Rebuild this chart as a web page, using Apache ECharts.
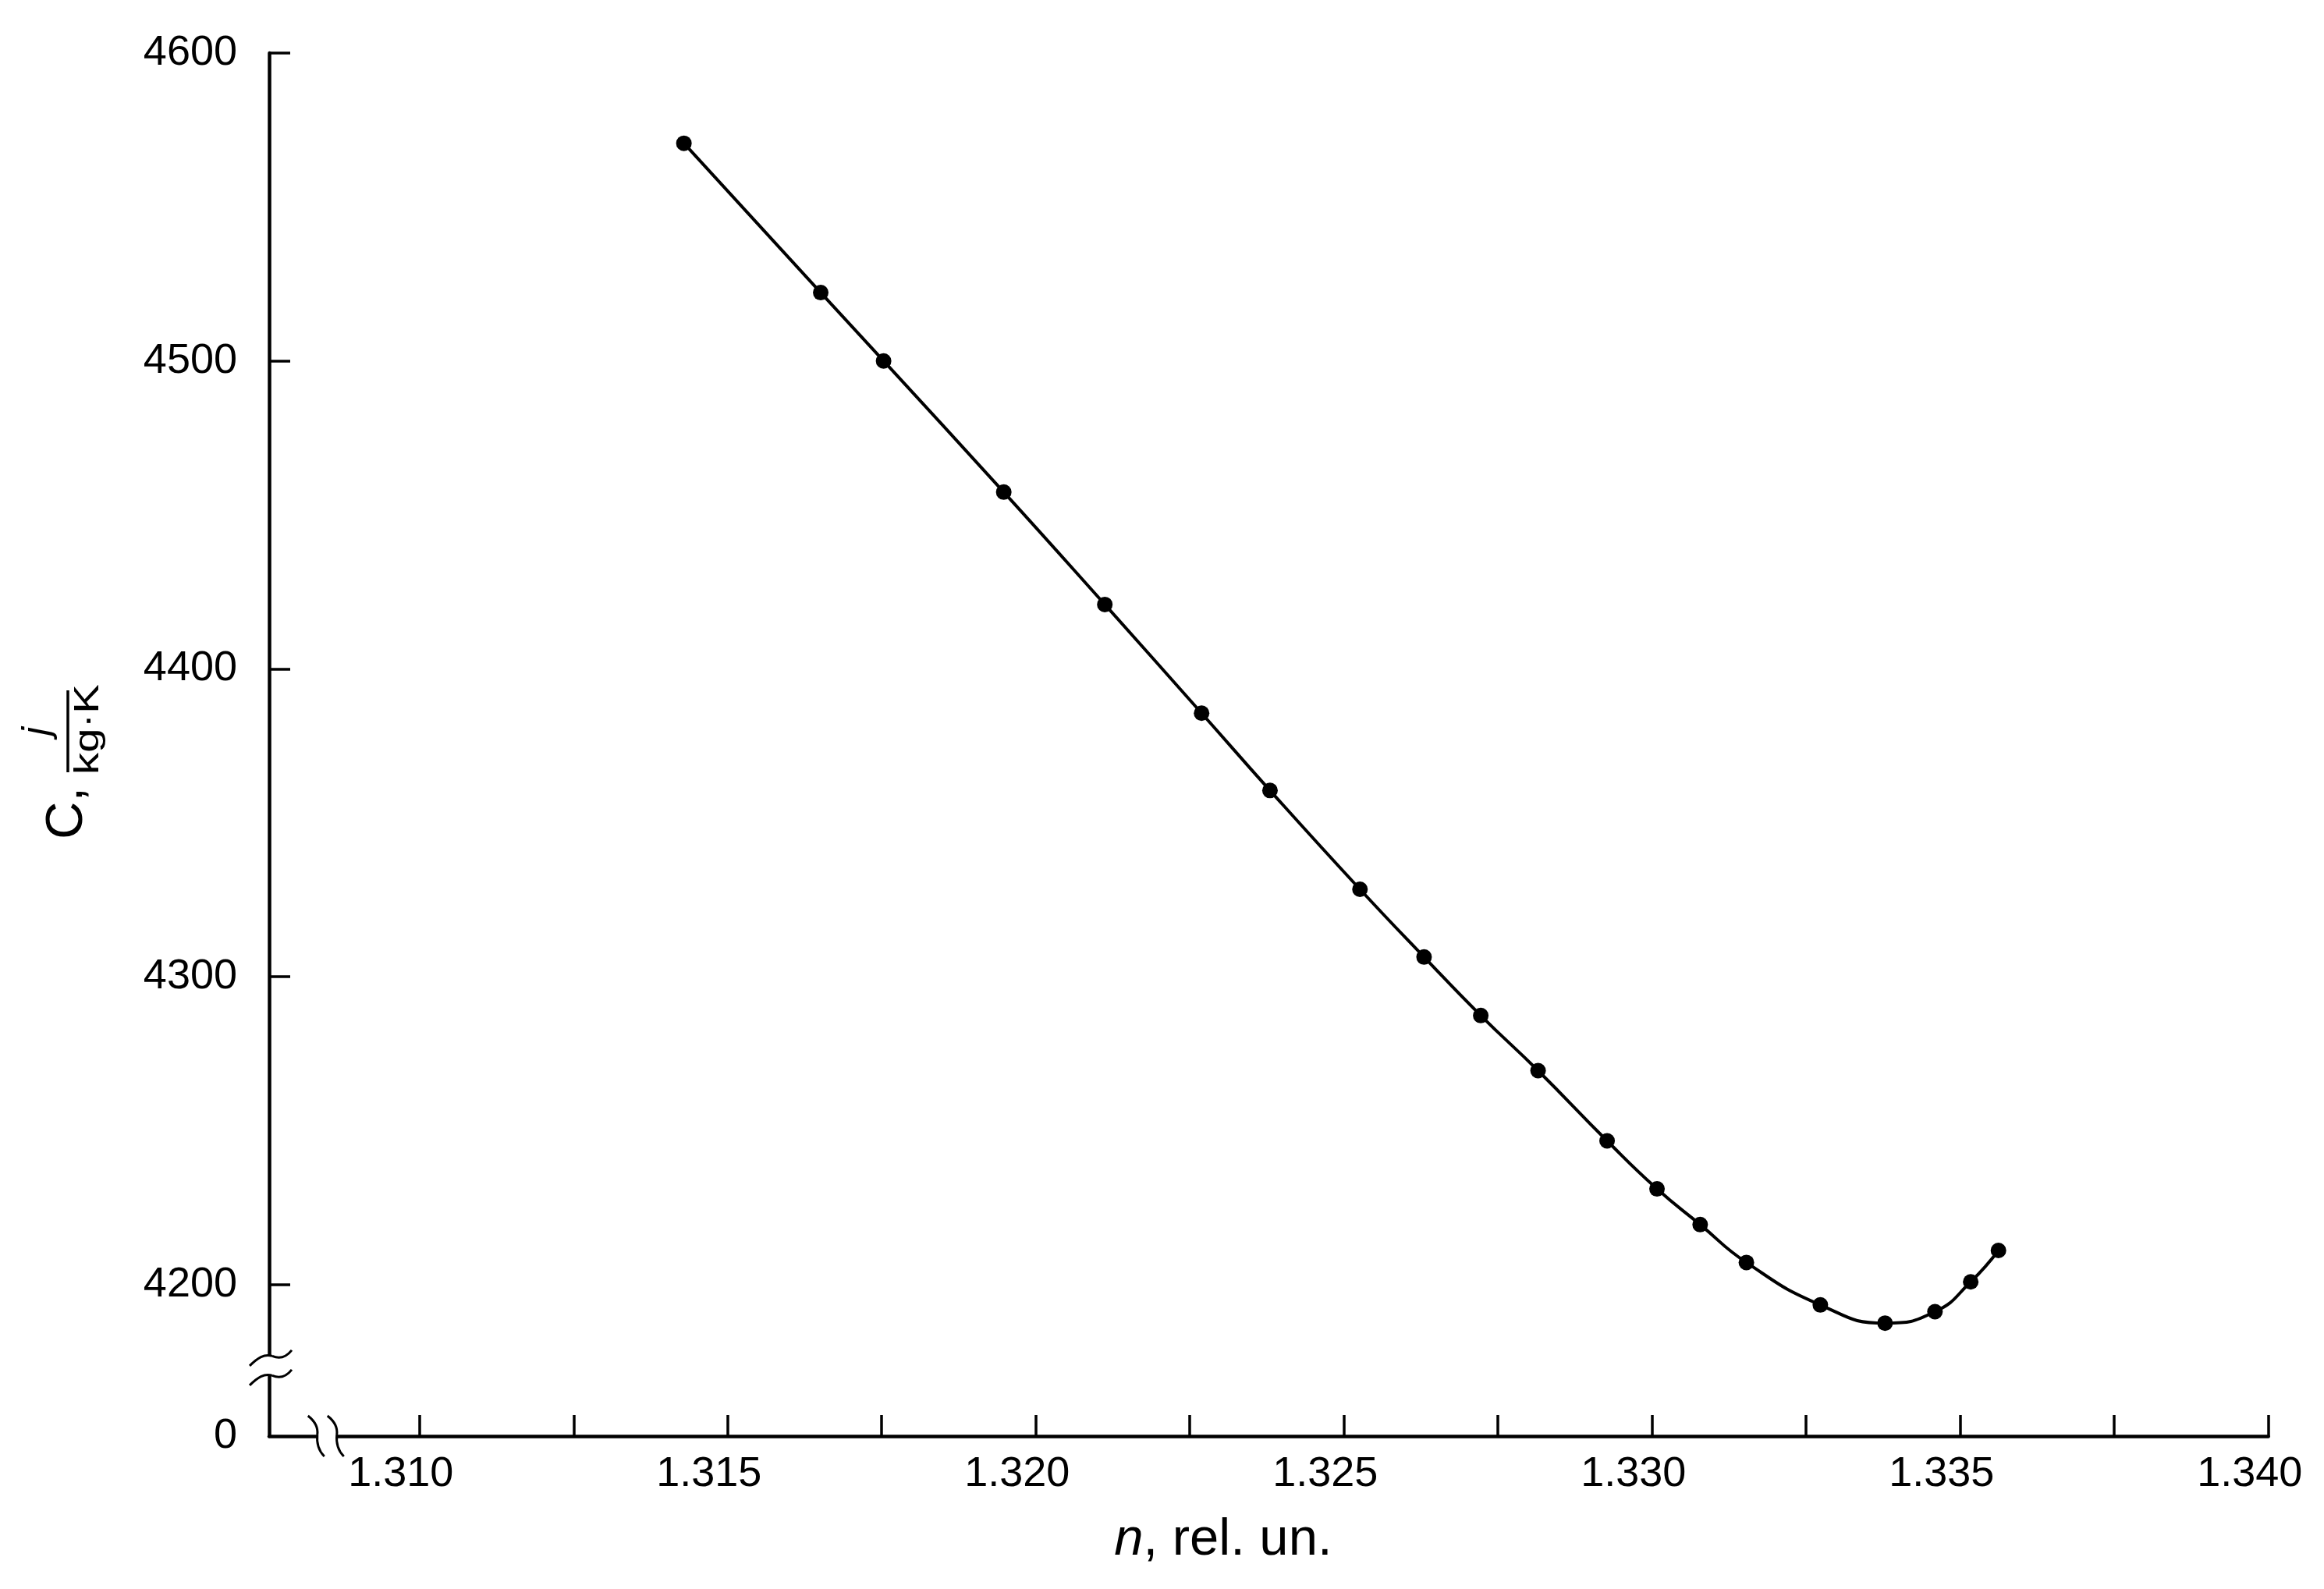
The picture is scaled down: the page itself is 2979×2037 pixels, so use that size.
<!DOCTYPE html>
<html>
<head>
<meta charset="utf-8">
<script src="https://cdn.jsdelivr.net/npm/echarts@6/dist/echarts.min.js"></script>
<style>html,body{margin:0;padding:0;background:#fff;}#c{width:2979px;height:2037px;}</style>
</head>
<body>
<div id="c"></div>
<script>
// ---- data ----
const nValues = [1.31429, 1.31651, 1.31753, 1.31948, 1.32112, 1.32269, 1.32380, 1.32526, 1.32630, 1.32722,
                 1.32815, 1.32927, 1.33008, 1.33078, 1.33153, 1.33273, 1.33378, 1.33459, 1.33517, 1.33562];
const cValues = [4570.7, 4522.2, 4500.0, 4457.4, 4420.9, 4385.6, 4360.5, 4328.4, 4306.4, 4287.4,
                 4269.5, 4246.7, 4231.1, 4219.5, 4207.2, 4193.4, 4187.5, 4191.2, 4200.9, 4211.1];
const xTickValues = [1.310, 1.3125, 1.315, 1.3175, 1.320, 1.3225, 1.325, 1.3275, 1.330, 1.3325, 1.335, 1.3375, 1.340];
const xLabelValues = [1.310, 1.315, 1.320, 1.325, 1.330, 1.335, 1.340];
const yTickValues = [4200, 4300, 4400, 4500, 4600];
const xMin = 1.30756, xMax = 1.340;
const yMin = 4150.8, yMax = 4600;
const yLabelValues = [yMin, 4200, 4300, 4400, 4500, 4600];
const xBreakValue = 1.3085;   // location of x-axis break
const yBreakValue = 4174;     // location of y-axis break

const points = nValues.map((n, i) => [n, cValues[i]]);
const breakMarks = [[xBreakValue, yMin, 0], [xMin, yBreakValue, 1]];

const FONT = '"Liberation Sans", Arial, sans-serif';
const chart = echarts.init(document.getElementById('c'), null, {renderer: 'canvas'});

function bez(x0, y0, c1x, c1y, c2x, c2y, x1, y1) {
  return {type: 'bezierCurve', shape: {x1: x0, y1: y0, cpx1: c1x, cpy1: c1y, cpx2: c2x, cpy2: c2y, x2: x1, y2: y1},
          style: {stroke: '#000', lineWidth: 3, fill: null}, z2: 10};
}

function renderBreak(params, api) {
  const p = api.coord([api.value(0), api.value(1)]);
  const kind = api.value(2);
  const ch = [];
  const half = 12.5;
  if (kind === 0) {
    ch.push({type: 'rect', shape: {x: p[0] - half, y: p[1] - 6, width: 2 * half, height: 12}, style: {fill: '#fff'}, z2: 5});
    [-half, half].forEach(d => {
      const cx = p[0] + d, cy = p[1];
      ch.push(bez(cx - 12, cy - 26, cx - 3, cy - 19, cx + 1, cy - 10, cx, cy - 2));
      ch.push(bez(cx, cy - 2, cx - 1, cy + 8, cx + 1, cy + 18, cx + 9, cy + 26));
    });
  } else {
    ch.push({type: 'rect', shape: {x: p[0] - 7, y: p[1] - half, width: 14, height: 2 * half}, style: {fill: '#fff'}, z2: 5});
    [-half, half].forEach(d => {
      const cx = p[0], cy = p[1] + d;
      ch.push(bez(cx - 25, cy + 14, cx - 15, cy + 4, cx - 6, cy - 2, cx + 4, cy + 1.5));
      ch.push(bez(cx + 4, cy + 1.5, cx + 12, cy + 5, cx + 21, cy + 4, cx + 29, cy - 6));
    });
  }
  return {type: 'group', children: ch};
}

const option = {
  animation: false,
  backgroundColor: '#fff',
  grid: {left: 345, right: 71.3, top: 68, bottom: 196, containLabel: false},
  xAxis: {
    type: 'value', min: xMin, max: xMax,
    name: '{i|n}, rel. un.',
    nameLocation: 'middle', nameGap: 100,
    nameTextStyle: {
      fontFamily: FONT, fontSize: 67, color: '#000', padding: [0, 117, 0, 0],
      rich: {i: {fontFamily: FONT, fontSize: 67, fontStyle: 'italic', color: '#000'}}
    },
    axisLine: {show: true, onZero: false, lineStyle: {color: '#000', width: 4.5}},
    axisTick: {show: true, inside: true, length: 27, customValues: xTickValues, lineStyle: {color: '#000', width: 3.5}},
    axisLabel: {
      show: true, customValues: xLabelValues, margin: 22,
      fontFamily: FONT, fontSize: 54, color: '#000', padding: [0, 48, 0, 0],
      formatter: v => v.toFixed(3)
    },
    splitLine: {show: false}
  },
  yAxis: {
    type: 'value', min: yMin, max: yMax,
    axisLine: {show: true, onZero: false, lineStyle: {color: '#000', width: 4.5}},
    axisTick: {show: true, inside: true, length: 27, customValues: yTickValues, lineStyle: {color: '#000', width: 3.5}},
    axisLabel: {
      show: true, customValues: yLabelValues, margin: 41,
      fontFamily: FONT, fontSize: 54, color: '#000',
      formatter: v => (v < 4200 ? '0' : String(Math.round(v)))
    },
    splitLine: {show: false}
  },
  graphic: [{
    type: 'group', x: 88, y: 1073, rotation: Math.PI / 2,
    children: [
      {type: 'text', x: -3, y: -1.5, style: {text: 'C,', font: '67px ' + FONT, fill: '#000', align: 'left', verticalAlign: 'middle'}},
      {type: 'text', x: 135.5, y: -39, style: {text: 'j', font: 'italic 50px ' + FONT, fill: '#000', align: 'center', verticalAlign: 'middle'}},
      {type: 'line', shape: {x1: 83, y1: -1, x2: 188, y2: -1}, style: {stroke: '#000', lineWidth: 3.5}},
      {type: 'text', x: 138, y: 25.6, scaleX: 1.28, style: {text: 'kg·K', font: '44px ' + FONT, fill: '#000', align: 'center', verticalAlign: 'middle'}}
    ]
  }],
  series: [
    {
      type: 'line', data: points, smooth: true,
      symbol: 'circle', symbolSize: 20,
      lineStyle: {color: '#000', width: 4},
      itemStyle: {color: '#000'},
      z: 3
    },
    {
      type: 'custom', data: breakMarks, renderItem: renderBreak, clip: false, silent: true, z: 5,
      encode: {x: 0, y: 1}
    }
  ]
};
chart.setOption(option);
</script>
</body>
</html>
